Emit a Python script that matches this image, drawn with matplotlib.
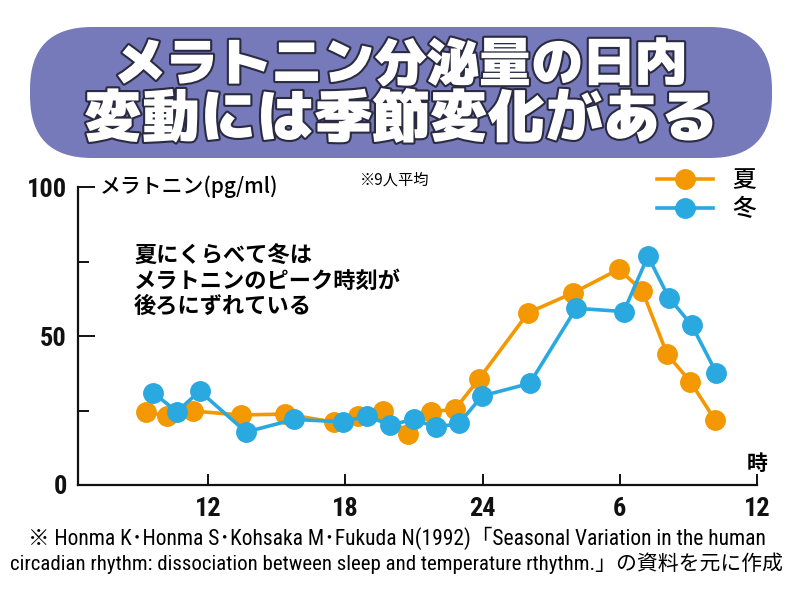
import matplotlib
matplotlib.use("Agg")
import matplotlib.pyplot as plt
import matplotlib.patheffects as pe
from matplotlib.patches import FancyBboxPatch
from matplotlib.ticker import FixedLocator

# ---- data ----
summer_hour = [9.29, 10.19, 11.34, 13.43, 15.37, 17.5, 18.56, 19.66, 20.75, 21.76, 22.8,
               23.83, 25.99, 27.94, 29.96, 30.98, 32.07, 33.09, 34.16]
summer_val = [24.5, 23.2, 24.8, 23.5, 23.8, 21.1, 23.2, 24.8, 17.1, 24.5, 25.5,
              35.5, 57.8, 64.4, 72.4, 65.2, 43.9, 34.6, 21.9]
winter_hour = [9.58, 10.63, 11.62, 13.65, 15.76, 17.88, 18.95, 19.93, 20.98, 21.98, 22.97,
               23.98, 26.06, 28.09, 30.17, 31.23, 32.14, 33.14, 34.22]
winter_val = [31.0, 24.6, 31.5, 17.8, 22.0, 21.2, 23.2, 20.1, 22.0, 19.4, 20.7,
              29.9, 34.1, 59.3, 58.2, 76.8, 62.9, 53.7, 37.7]
x_ticks = [12, 18, 24, 30, 36]
x_ticklabels = ["12", "18", "24", "6", "12"]
y_ticks = [0, 50, 100]
y_ticklabels = ["0", "50", "100"]
y_minor = [25, 75]
series_labels = ["夏", "冬"]

title_lines = ["メラトニン分泌量の日内", "変動には季節変化がある"]
ylabel_text = "メラトニン(pg/ml)"
note_text = "※9人平均"
annot_text = "夏にくらべて冬は\nメラトニンのピーク時刻が\n後ろにずれている"
unit_text = "時"
source_lines = ["※ Honma K･Honma S･Kohsaka M･Fukuda N(1992)「Seasonal Variation in the human",
                "circadian rhythm: dissociation between sleep and temperature rthythm.」の資料を元に作成"]

JP = ["Noto Sans CJK JP", "DejaVu Sans"]
TITLE = ["M PLUS 1p", "Noto Sans CJK JP", "DejaVu Sans"]
NARROW = ["Roboto Condensed", "Noto Sans CJK JP", "DejaVu Sans"]
plt.rcParams["font.family"] = JP

ORANGE = "#F39800"
BLUE = "#29A9E0"
BOXC = "#7679BA"

fig = plt.figure(figsize=(8, 6), dpi=100)
fig.patch.set_facecolor("white")

# background / annotation layer in pixel coordinates
bg = fig.add_axes([0, 0, 1, 1], zorder=0)
bg.set_xlim(0, 800)
bg.set_ylim(600, 0)
bg.axis("off")

box = FancyBboxPatch((30, 27), 742, 131, boxstyle="round,pad=0,rounding_size=62",
                     facecolor=BOXC, edgecolor="none")
bg.add_patch(box)
stroke = [pe.withStroke(linewidth=3, foreground="#2a2a40")]
bg.text(401, 67, title_lines[0], ha="center", va="center", color="white",
        fontsize=37.5, fontweight=900, family=TITLE, path_effects=stroke)
bg.text(401, 121, title_lines[1], ha="center", va="center", color="white",
        fontsize=41.5, fontweight=900, family=TITLE, path_effects=stroke)

bg.text(100, 187, ylabel_text, ha="left", va="center", fontsize=15, fontweight="medium", family=JP)
bg.text(360, 180, note_text, ha="left", va="center", fontsize=11, family=JP)
bg.text(134, 281, annot_text, ha="left", va="center", fontsize=16, fontweight="bold",
        family=JP, linespacing=1.12)
bg.text(757, 463, unit_text, ha="center", va="center", fontsize=15, fontweight="bold", family=JP)
bg.text(397, 538, source_lines[0], ha="center", va="center", fontsize=15.5, family=NARROW)
bg.text(396, 563, source_lines[1], ha="center", va="center", fontsize=15, family=NARROW)

# main axes
ax = fig.add_axes([78/800, 1-485/600, (757-78)/800, (485-187)/600], zorder=1)
ax.patch.set_alpha(0)
ax.plot(summer_hour, summer_val, color=ORANGE, lw=2.6, marker="o", ms=14,
        label=series_labels[0], zorder=3, clip_on=False)
ax.plot(winter_hour, winter_val, color=BLUE, lw=2.6, marker="o", ms=14,
        label=series_labels[1], zorder=4, clip_on=False)

ax.set_xlim(6.3, 36)
ax.set_ylim(0, 100)
for s in ["top", "right"]:
    ax.spines[s].set_visible(False)
for s in ["left", "bottom"]:
    ax.spines[s].set_linewidth(1.6)
    ax.spines[s].set_color("#111111")

ax.xaxis.set_major_locator(FixedLocator(x_ticks))
ax.set_xticklabels(x_ticklabels)
ax.yaxis.set_major_locator(FixedLocator(y_ticks))
ax.set_yticklabels(y_ticklabels)
ax.yaxis.set_minor_locator(FixedLocator(y_minor))
ax.tick_params(axis="x", direction="in", length=8, width=1.4, pad=9, colors="#111111")
ax.tick_params(axis="y", which="major", direction="in", length=12, width=1.4, pad=8, colors="#111111")
ax.tick_params(axis="y", which="minor", direction="in", length=8, width=1.4, colors="#111111")
for lab in ax.get_xticklabels() + ax.get_yticklabels():
    lab.set_family(NARROW)
    lab.set_fontweight("bold")
    lab.set_fontsize(19)
    lab.set_color("#111111")

leg = ax.legend(loc="center left", bbox_to_anchor=(645/800, 1-195/600),
                bbox_transform=fig.transFigure, frameon=False, fontsize=17,
                handlelength=2.4, handletextpad=0.8, labelspacing=0.25, borderpad=0)
for t in leg.get_texts():
    t.set_fontweight("medium")

fig.savefig("out.png", dpi=100, facecolor="white")
